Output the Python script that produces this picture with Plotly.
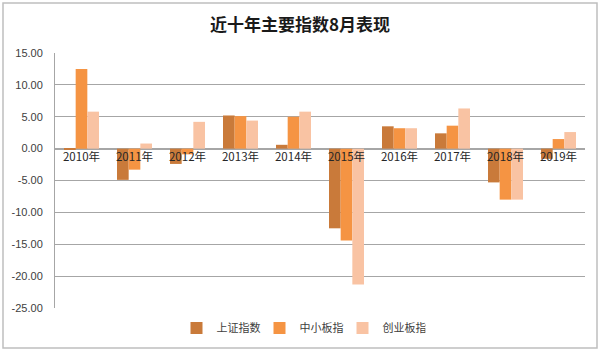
import plotly.graph_objects as go

categories = ["2010年", "2011年", "2012年", "2013年", "2014年", "2015年", "2016年", "2017年", "2018年", "2019年"]
sh_index = [-0.2, -4.9, -2.4, 5.2, 0.6, -12.5, 3.5, 2.4, -5.3, -1.6]
sme_index = [12.5, -3.3, -0.9, 5.1, 5.0, -14.4, 3.2, 3.6, -8.0, 1.5]
gem_index = [5.8, 0.8, 4.2, 4.4, 5.8, -21.3, 3.2, 6.3, -8.0, 2.6]
series_names = ["上证指数", "中小板指", "创业板指"]
y_ticks = [15, 10, 5, 0, -5, -10, -15, -20, -25]

colors = ["#C97A3A", "#F59443", "#F9C3A3"]

fig = go.Figure()
for name, vals, col in zip(series_names, [sh_index, sme_index, gem_index], colors):
    fig.add_trace(go.Bar(x=categories, y=vals, name=name, marker=dict(color=col, line=dict(width=0))))

W, H = 600, 356
ml, mr, mt, mb = 55, 15, 53, 48
pw, ph = W - ml - mr, H - mt - mb

fig.update_layout(
    width=W, height=H,
    margin=dict(l=ml, r=mr, t=mt, b=mb, autoexpand=False),
    paper_bgcolor="white", plot_bgcolor="white",
    barmode="group", bargap=0.34, bargroupgap=0,
    title=dict(text="<b>近十年主要指数8月表现</b>", x=0.5, xanchor="center", y=1 - 25 / H, yanchor="middle",
               font=dict(family="Noto Sans CJK SC", size=17, color="#1a1a1a")),
    font=dict(family="Noto Sans CJK SC", size=11, color="#404040"),
    legend=dict(orientation="h", x=(301 - ml) / pw, xanchor="center", y=-20 / ph, yanchor="middle",
                font=dict(size=11, color="#404040"), itemwidth=30, entrywidth=38, entrywidthmode="pixels",
                tracegroupgap=0),
    showlegend=True,
)
fig.update_yaxes(range=[-25, 15], tickvals=y_ticks, ticktext=[f"{v:.2f}" for v in y_ticks],
                 showgrid=True, gridcolor="#A6A6A6", gridwidth=1, zeroline=True, zerolinecolor="#A6A6A6",
                 showline=True, linecolor="#A6A6A6", linewidth=1, ticks="", ticklen=0,
                 ticklabelstandoff=9,
                 tickfont=dict(family="Liberation Sans", size=11, color="#404040"))
fig.update_xaxes(anchor="free", position=25/40, showline=False, ticks="", showgrid=False,
                 tickfont=dict(family="Noto Sans CJK SC", size=11.5, color="#262626"))

# outer chart border
fig.add_shape(type="rect", xref="paper", yref="paper",
              x0=(3 - ml) / pw, x1=(597 - ml) / pw,
              y0=(H - mb - 348) / ph, y1=(H - mb - 3) / ph,
              line=dict(color="#BFBFBF", width=1.5), fillcolor="rgba(0,0,0,0)", layer="below")

fig.write_html("out.html", config={"displayModeBar": False},
               post_script="document.body.style.margin='0';")
